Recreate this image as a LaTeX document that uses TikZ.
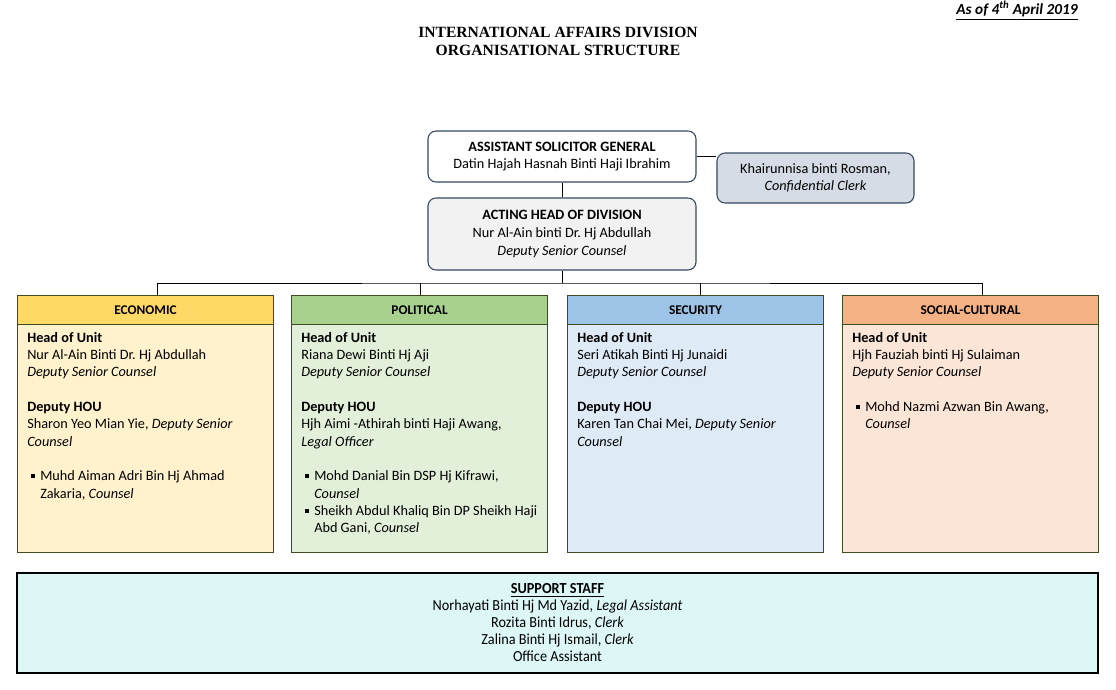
\documentclass[tikz,border=0pt]{standalone}
\usepackage{fontspec}
\setmainfont{Carlito}
\newfontfamily\titlefont{Liberation Serif}
\newfontfamily\narrowfont[FakeStretch=0.93]{Carlito}
\definecolor{topline}{RGB}{52,72,94}
\definecolor{unitline}{RGB}{62,76,34}
\definecolor{clerkfill}{HTML}{D6DCE5}
\definecolor{ahdfill}{HTML}{F2F2F2}
\definecolor{econhead}{HTML}{FFD966}
\definecolor{econbody}{HTML}{FFF2CC}
\definecolor{polhead}{HTML}{A9D18E}
\definecolor{polbody}{HTML}{E2F0D9}
\definecolor{sechead}{HTML}{9DC3E6}
\definecolor{secbody}{HTML}{DEEBF7}
\definecolor{sochead}{HTML}{F4B183}
\definecolor{socbody}{HTML}{FBE5D6}
\definecolor{stafffill}{HTML}{DDF7F7}
\newcommand{\unititem}[1]{\par\hangindent=9.75pt\hangafter=1\noindent
  \makebox[9.75pt][l]{\hspace{3pt}\rule[2pt]{3pt}{3pt}}#1\par}
\tikzset{
  topbox/.style={draw=topline, line width=0.8pt, rounded corners=6pt, align=center, font=\fontsize{10.7}{13.3}\selectfont},
  unithead/.style={draw=unitline, line width=0.8pt, anchor=north west, minimum width=192pt, minimum height=22pt, font=\bfseries},
  unitbody/.style={draw=unitline, line width=0.8pt, anchor=north west, minimum width=192pt, minimum height=171pt},
  unittext/.style={anchor=north west, text width=190pt, align=flush left, inner sep=0pt, font=\fontsize{10.7}{13}\selectfont},
  conn/.style={line width=0.7pt}
}
\begin{document}
\frenchspacing
\begin{tikzpicture}[x=0.75pt, y=-0.75pt, font=\fontsize{11}{13}\selectfont]
\useasboundingbox (0,0) rectangle (1116,689);
\node[anchor=south east, inner sep=0pt, font=\fontsize{11.5}{13}\selectfont] (date) at (1078,20) {\bfseries\itshape\underline{As of 4\textsuperscript{th} April 2019}};
\node[align=center, inner sep=0pt, font=\titlefont\bfseries\fontsize{11.7}{13.5}\selectfont] (title) at (558,41) {INTERNATIONAL AFFAIRS DIVISION\\ORGANISATIONAL STRUCTURE};

\node[topbox, fill=white, minimum width=201pt, minimum height=38.25pt] (asg) at (562,156.5) {\textbf{ASSISTANT SOLICITOR GENERAL}\\Datin Hajah Hasnah Binti Haji Ibrahim};
\node[topbox, fill=clerkfill, minimum width=147.75pt, minimum height=37.5pt] (clerk) at (815.5,178) {Khairunnisa binti Rosman,\\\textit{Confidential Clerk}};
\node[topbox, fill=ahdfill, minimum width=201pt, minimum height=54pt] (ahd) at (562,234) {\textbf{ACTING HEAD OF DIVISION}\\Nur Al-Ain binti Dr. Hj Abdullah\\\textit{Deputy Senior Counsel}};

\foreach \n/\x/\t in {econ/17/ECONOMIC, pol/291/POLITICAL, sec/567/SECURITY, soc/842/SOCIAL-CULTURAL}{
  \node[unitbody, fill=\n body] (\n body) at (\x,324) {};
  \node[unithead, fill=\n head] (\n) at (\x,295) {\t};
}

\draw[conn] (asg.east) -- (asg.east -| clerk.west);
\draw[conn] (asg.south) -- (ahd.north);
\coordinate (bus) at (562,283);
\draw[conn] (ahd.south) -- (bus);
\draw[conn] ([xshift=9pt]econ.north) |- (bus) -| ([xshift=9pt]soc.north);
\draw[conn] ([xshift=0.75pt]pol.north) -- ([xshift=0.75pt]pol.north |- bus);
\draw[conn] ([xshift=3.75pt]sec.north) -- ([xshift=3.75pt]sec.north |- bus);

\node[unittext] (econtext) at ([shift={(10,8)}]econbody.north west) {\textbf{Head of Unit}\\Nur Al-Ain Binti Dr. Hj Abdullah\\\textit{Deputy Senior Counsel}\\[13pt]
\textbf{Deputy HOU}\\Sharon Yeo Mian Yie, \textit{Deputy Senior}\\\textit{Counsel}\\[13pt]
\unititem{Muhd Aiman Adri Bin Hj Ahmad\newline Zakaria, \textit{Counsel}}};
\node[unittext] (poltext) at ([shift={(10,8)}]polbody.north west) {\textbf{Head of Unit}\\Riana Dewi Binti Hj Aji\\\textit{Deputy Senior Counsel}\\[13pt]
\textbf{Deputy HOU}\\Hjh Aimi -Athirah binti Haji Awang,\\\textit{Legal Officer}\\[13pt]
\unititem{Mohd Danial Bin DSP Hj Kifrawi,\newline\textit{Counsel}}
\unititem{Sheikh Abdul Khaliq Bin DP Sheikh Haji\newline Abd Gani, \textit{Counsel}}};
\node[unittext] (sectext) at ([shift={(10,8)}]secbody.north west) {\textbf{Head of Unit}\\Seri Atikah Binti Hj Junaidi\\\textit{Deputy Senior Counsel}\\[13pt]
\textbf{Deputy HOU}\\Karen Tan Chai Mei, \textit{Deputy Senior}\\\textit{Counsel}};
\node[unittext] (soctext) at ([shift={(10,8)}]socbody.north west) {\textbf{Head of Unit}\\Hjh Fauziah binti Hj Sulaiman\\\textit{Deputy Senior Counsel}\\[13pt]
\unititem{Mohd Nazmi Azwan Bin Awang,\newline\textit{Counsel}}};

\node[draw=black, line width=0.9pt, fill=stafffill, minimum width=810.75pt, minimum height=75pt, align=center, font=\narrowfont\fontsize{11.5}{12.75}\selectfont] (staff) at (557.5,623) {\textbf{\underline{SUPPORT STAFF}}\\Norhayati Binti Hj Md Yazid, \textit{Legal Assistant}\\Rozita Binti Idrus, \textit{Clerk}\\Zalina Binti Hj Ismail, \textit{Clerk}\\Office Assistant};
\end{tikzpicture}
\end{document}
